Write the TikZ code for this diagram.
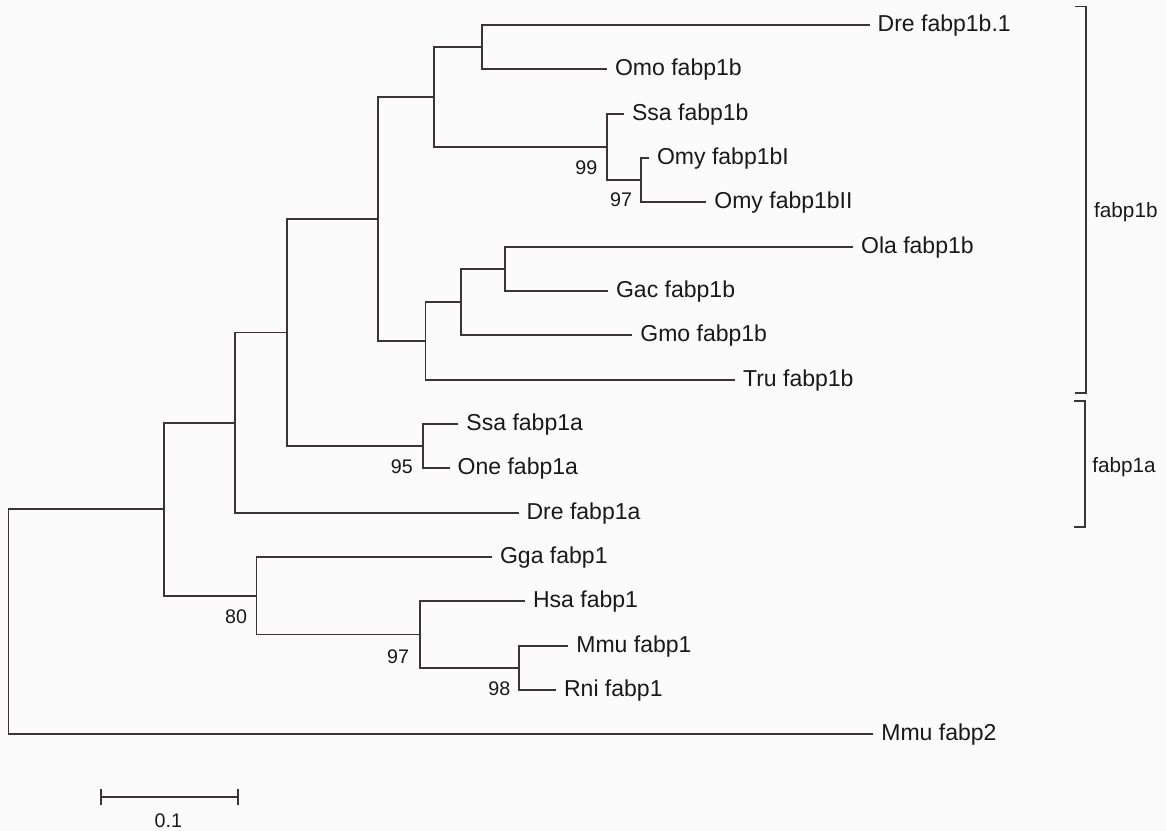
\documentclass[tikz,border=0pt]{standalone}
\usepackage{fontspec}
\setmainfont{Liberation Sans}
\usepackage{tikz}
\usetikzlibrary{positioning}
\usepackage{xcolor}
\definecolor{treeline}{RGB}{58,52,52}
\definecolor{paper}{RGB}{251,251,251}

\begin{document}
\begin{tikzpicture}[x=0.02cm, y=-0.02cm,
    branch/.style={draw=treeline, line width=1pt},
    taxon/.style={anchor=west, inner xsep=4.4pt, inner ysep=0pt, text height=0.72em, text depth=0pt,
      font=\fontsize{13.1}{15}\selectfont, text=black!90},
    boot/.style={inner sep=0pt, text height=0.72em, text depth=0pt,
      font=\fontsize{11.2}{13}\selectfont, text=black!90},
    clade/.style={anchor=west, inner sep=0pt, text height=0.72em, text depth=0pt,
      font=\fontsize{11.8}{14}\selectfont, text=black!90}]
          \fill[paper] (0,0) rectangle (1166,831);
          \useasboundingbox (0,0) rectangle (1166,831);
          % leaves
          \node[taxon] (dre1b) at (869.6,25) {Dre fabp1b.1};
          \node[taxon] (omo1b) at (607,69.3) {Omo fabp1b};
          \node[taxon] (ssa1b) at (624,113.7) {Ssa fabp1b};
          \node[taxon] (omy1bI) at (649,158) {Omy fabp1bI};
          \node[taxon] (omy1bII) at (706.3,202.3) {Omy fabp1bII};
          \node[taxon] (ola1b) at (853,246.7) {Ola fabp1b};
          \node[taxon] (gac1b) at (608,291) {Gac fabp1b};
          \node[taxon] (gmo1b) at (632.3,335.3) {Gmo fabp1b};
          \node[taxon] (tru1b) at (735,379.7) {Tru fabp1b};
          \node[taxon] (ssa1a) at (458.4,424) {Ssa fabp1a};
          \node[taxon] (one1a) at (449.6,468.3) {One fabp1a};
          \node[taxon] (dre1a) at (518.5,512.7) {Dre fabp1a};
          \node[taxon] (gga1) at (492,557) {Gga fabp1};
          \node[taxon] (hsa1) at (525,601.3) {Hsa fabp1};
          \node[taxon] (mmu1) at (568.3,645.7) {Mmu fabp1};
          \node[taxon] (rni1) at (556,690) {Rni fabp1};
          \node[taxon] (mmu2) at (873.3,734.3) {Mmu fabp2};
          % inner nodes
          \coordinate (nA) at (482.3,47.2);
          \coordinate (nB) at (641.3,180.2);
          \coordinate (nC) at (607,146.9);
          \coordinate (nD) at (434.3,97.05);
          \coordinate (nE) at (505.1,268.8);
          \coordinate (nF) at (461.1,302.1);
          \coordinate (nG) at (425.5,340.9);
          \coordinate (nH) at (377.7,219);
          \coordinate (nI) at (422.8,446.2);
          \coordinate (nJ) at (287,332.6);
          \coordinate (nK) at (235.3,422.65);
          \coordinate (nL) at (519.3,667.8);
          \coordinate (nM) at (419.8,634.55);
          \coordinate (nN) at (256.4,595.8);
          \coordinate (nO) at (163.8,509.2);
          \coordinate (root) at (8.4,621.75);
          % branches
          \draw[branch] (dre1b.west) -| (nA) |- (omo1b.west);
          \draw[branch] (omy1bI.west) -| (nB) |- (omy1bII.west);
          \draw[branch] (ssa1b.west) -| (nC) |- (nB);
          \draw[branch] (nA) -| (nD) |- (nC);
          \draw[branch] (ola1b.west) -| (nE) |- (gac1b.west);
          \draw[branch] (nE) -| (nF) |- (gmo1b.west);
          \draw[branch] (nF) -| (nG) |- (tru1b.west);
          \draw[branch] (nD) -| (nH) |- (nG);
          \draw[branch] (ssa1a.west) -| (nI) |- (one1a.west);
          \draw[branch] (nH) -| (nJ) |- (nI);
          \draw[branch] (nJ) -| (nK) |- (dre1a.west);
          \draw[branch] (mmu1.west) -| (nL) |- (rni1.west);
          \draw[branch] (hsa1.west) -| (nM) |- (nL);
          \draw[branch] (gga1.west) -| (nN) |- (nM);
          \draw[branch] (nK) -| (nO) |- (nN);
          \draw[branch] (nO) -| (root) |- (mmu2.west);
          % bootstrap values
          \node[boot] (bs99) at (586.3,168.3) {99};
          \node[boot] (bs97a) at (621,200.5) {97};
          \node[boot] (bs95) at (401.8,466.7) {95};
          \node[boot] (bs80) at (236,617.3) {80};
          \node[boot] (bs97b) at (398,656.7) {97};
          \node[boot] (bs98) at (499.3,689.3) {98};
          % clade brackets
          \draw[branch] (1075,6.4) -- (1086.3,6.4) -- (1086.3,392.9) -- (1075,392.9);
          \node[clade] (fabp1b) at (1093.8,210.7) {fabp1b};
          \draw[branch] (1074,400.7) -- (1085,400.7) -- (1085,526.8) -- (1074,526.8);
          \node[clade] (fabp1a) at (1092,466) {fabp1a};
          % scale bar
          \draw[branch] (101,789.3) -- (101,805) (101,796.7) -- (238.3,796.7) (238.3,789.3) -- (238.3,805);
          \node[boot] (scale) at (168.3,820.7) {0.1};
        \end{tikzpicture}
\end{document}
